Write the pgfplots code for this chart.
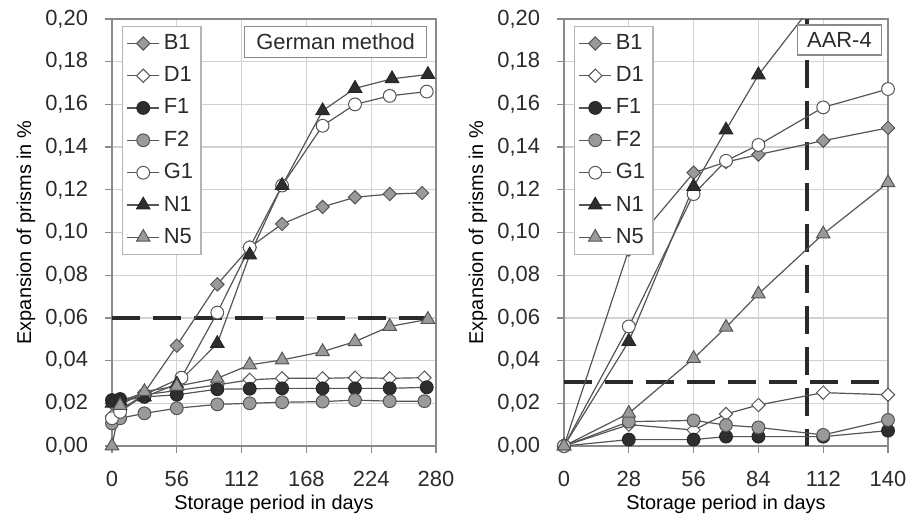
\documentclass[border=0pt]{standalone}
\usepackage{pgfplots}
\pgfplotsset{compat=1.18}
\usepackage{fontspec}
\setmainfont{Liberation Sans}
\definecolor{txt}{HTML}{2B2B2B}
\definecolor{gridc}{HTML}{D2D2D2}
\definecolor{framec}{HTML}{8A8A8A}
\definecolor{legc}{HTML}{B4B4B4}
\definecolor{linec}{HTML}{555555}
\definecolor{mdraw}{HTML}{555555}
\definecolor{gfill}{HTML}{9A9A9A}
\definecolor{dfill}{HTML}{2E2E2E}
\definecolor{dashc}{HTML}{2A2A2A}
\newcommand{\fs}{\fontsize{11}{13}\selectfont}
\pgfplotsset{
  myax/.style={
    scale only axis, width=162bp, height=213.5bp,
    ymin=0, ymax=0.2,
    ytick={0,0.02,0.04,0.06,0.08,0.1,0.12,0.14,0.16,0.18,0.2},
    scaled y ticks=false,
    yticklabel style={/pgf/number format/fixed,/pgf/number format/fixed zerofill,/pgf/number format/precision=2,/pgf/number format/use comma, xshift=-5bp},
    xticklabel style={yshift=-5.5bp},
    /pgf/number format/assume math mode=true,
    grid=major, major grid style={draw=gridc, line width=0.6bp},
    axis line style={draw=framec, line width=0.9bp},
    tick style={draw=framec, line width=0.6bp},
    tick align=outside, major tick length=3.5bp,
    xtick pos=bottom, ytick pos=left,
    ticklabel style={font=\fs, text=txt},
    xlabel={Storage period in days}, ylabel={Expansion of prisms in \%},
    label style={font=\fs, text=txt},
    every axis x label/.style={at={(rel axis cs:0.5,0)}, anchor=center, yshift=-29bp},
    every axis y label/.style={at={(rel axis cs:0,0.5)}, anchor=center, xshift=-43bp, rotate=90},
    legend style={at={(0.031,0.984)}, anchor=north west, draw=legc, fill=white, font=\fs, text=txt, row sep=3.1bp, inner sep=2bp, line width=0.6bp},
    legend cell align=left,
    legend image code/.code={\draw[mark repeat=2,mark phase=2] plot coordinates {(0bp,0bp)(8bp,0bp)(16bp,0bp)};},
  },
  sB/.style={linec, line width=0.6bp, mark=square*, mark size=2.35bp, mark options={rotate=45, fill=gfill, draw=mdraw, line width=0.5bp, solid}},
  sD/.style={linec, line width=0.6bp, mark=square*, mark size=2.35bp, mark options={rotate=45, fill=white, draw=mdraw, line width=0.5bp, solid}},
  sF1/.style={linec, line width=0.6bp, mark=*, mark size=3.2bp, mark options={fill=dfill, draw=dfill!80!black, line width=0.5bp, solid}},
  sF2/.style={linec, line width=0.6bp, mark=*, mark size=3.2bp, mark options={fill=gfill, draw=mdraw, line width=0.5bp, solid}},
  sG/.style={linec, line width=0.6bp, mark=*, mark size=3.2bp, mark options={fill=white, draw=mdraw, line width=0.5bp, solid}},
  sN1/.style={linec, line width=0.6bp, mark=triangle*, mark size=3.9bp, mark options={fill=dfill, draw=dfill!80!black, line width=0.5bp, solid}},
  sN5/.style={linec, line width=0.6bp, mark=triangle*, mark size=3.9bp, mark options={fill=gfill, draw=mdraw, line width=0.5bp, solid}},
  dsh/.style={dashc, line width=1.6bp, dash pattern=on 14bp off 6.5bp},
}
\begin{document}
\begin{tikzpicture}[x=1bp,y=1bp]
\useasboundingbox (0,0) rectangle (460,257.5);
% ---------------- German method ----------------
\begin{axis}[myax, at={(56bp,34.5bp)}, anchor=south west,
  xmin=0, xmax=280, xtick={0,56,112,168,224,280}]
\addplot[dsh, forget plot] coordinates {(0,0.06) (280,0.06)};
\addplot[sB] coordinates {(0,0.020) (7,0.021) (28,0.025) (56,0.047) (91,0.0757) (119,0.093) (147,0.104) (182,0.112) (210,0.1165) (240,0.118) (268,0.1185)};
\addlegendentry{B1}
\addplot[sD] coordinates {(0,0.014) (7,0.017) (28,0.024) (56,0.026) (91,0.0286) (119,0.031) (147,0.0317) (182,0.0317) (210,0.032) (240,0.0317) (270,0.032)};
\addlegendentry{D1}
\addplot[sF1] coordinates {(0,0.0215) (7,0.022) (28,0.023) (56,0.024) (91,0.0266) (119,0.0268) (147,0.027) (182,0.027) (210,0.027) (240,0.027) (272,0.0275)};
\addlegendentry{F1}
\addplot[sF2] coordinates {(0,0.0106) (7,0.013) (28,0.0153) (56,0.0177) (91,0.0195) (119,0.020) (147,0.0205) (182,0.0208) (210,0.0215) (240,0.021) (270,0.021)};
\addlegendentry{F2}
\addplot[sG] coordinates {(0,0.013) (7,0.016) (28,0.024) (60,0.032) (91,0.0625) (119,0.093) (147,0.122) (182,0.150) (210,0.160) (240,0.164) (272,0.166)};
\addlegendentry{G1}
\addplot[sN1] coordinates {(0,0.020) (7,0.021) (28,0.023) (56,0.029) (91,0.048) (119,0.0895) (147,0.122) (182,0.157) (210,0.1675) (242,0.172) (273,0.174)};
\addlegendentry{N1}
\addplot[sN5] coordinates {(0,0.000) (7,0.019) (28,0.0255) (56,0.028) (91,0.0317) (119,0.038) (147,0.0403) (182,0.0442) (210,0.0489) (240,0.056) (273,0.0593)};
\addlegendentry{N5}
\node[draw=framec, fill=white, line width=0.6bp, font=\fs, text=txt, inner xsep=6bp, minimum height=15.5bp] at (rel axis cs:0.69,0.947) {German method};
\end{axis}
% ---------------- AAR-4 ----------------
\begin{axis}[myax, at={(282bp,34.5bp)}, anchor=south west,
  xmin=0, xmax=140, xtick={0,28,56,84,112,140}]
\addplot[dsh, forget plot] coordinates {(0,0.03) (140,0.03)};
\addplot[dsh, forget plot] coordinates {(105,0.2) (105,0)};
\addplot[linec, line width=0.6bp, forget plot] coordinates {(84,0.1738) (112,0.213)};
\addplot[sB] coordinates {(0,0) (28,0.092) (56,0.128) (70,0.133) (84,0.1365) (112,0.143) (140,0.149)};
\addlegendentry{B1}
\addplot[sD] coordinates {(0,0) (28,0.010) (56,0.0075) (70,0.015) (84,0.0192) (112,0.025) (140,0.024)};
\addlegendentry{D1}
\addplot[sF1] coordinates {(0,0) (28,0.003) (56,0.003) (70,0.0044) (84,0.0044) (112,0.0044) (140,0.0072)};
\addlegendentry{F1}
\addplot[sF2] coordinates {(0,0) (28,0.0114) (56,0.012) (70,0.0098) (84,0.0087) (112,0.0052) (140,0.0122)};
\addlegendentry{F2}
\addplot[sG] coordinates {(0,0) (28,0.056) (56,0.118) (70,0.1336) (84,0.141) (112,0.1586) (140,0.1672)};
\addlegendentry{G1}
\addplot[sN1] coordinates {(0,0) (28,0.049) (56,0.1215) (70,0.148) (84,0.1738)};
\addlegendentry{N1}
\addplot[sN5] coordinates {(0,0) (28,0.0153) (56,0.041) (70,0.0556) (84,0.0712) (112,0.0993) (140,0.1233)};
\addlegendentry{N5}
\node[draw=framec, fill=white, line width=0.6bp, font=\fs, text=txt, inner xsep=5bp, minimum height=15bp] at (rel axis cs:0.85,0.951) {AAR-4};
\end{axis}
\end{tikzpicture}
\end{document}
